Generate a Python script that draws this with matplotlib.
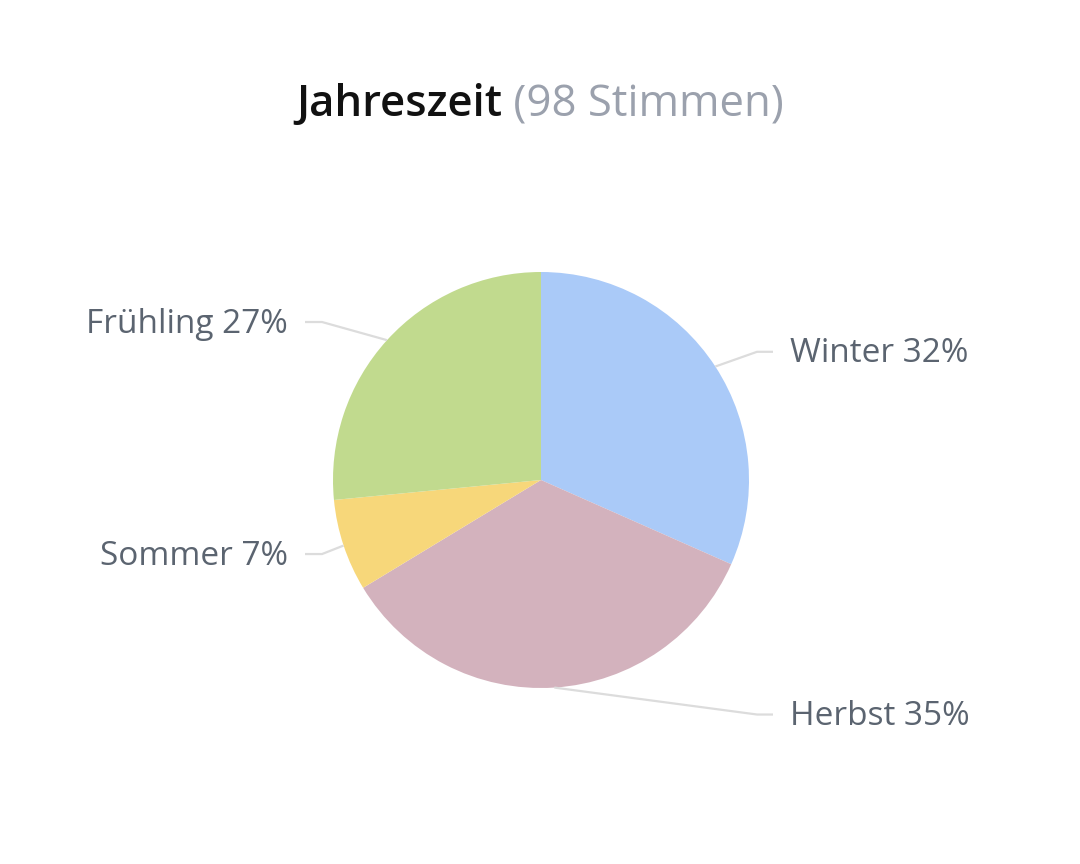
import numpy as np
import matplotlib.pyplot as plt

# survey data (98 votes)
seasons = ['Winter', 'Herbst', 'Sommer', 'Frühling']
votes = [31, 34, 7, 26]
colors = ['#aacaf8', '#d3b2bd', '#f7d77a', '#c1da8e']
total_votes = sum(votes)

plt.rcParams['font.family'] = ['Open Sans', 'DejaVu Sans']

W, H = 1080, 864
fig = plt.figure(figsize=(W / 100, H / 100), dpi=100)
ax = fig.add_axes([0, 0, 1, 1])

cx, cy, r = 541, H - 480, 208
wedges, _ = ax.pie(votes, colors=colors, startangle=90, counterclock=False,
                   center=(cx, cy), radius=r, frame=True,
                   wedgeprops=dict(linewidth=0))
ax.set_xlim(0, W)
ax.set_ylim(0, H)
ax.set_aspect('equal')
ax.axis('off')

label_color = '#5b6470'
line_color = '#dcdcdc'
dist = 27
for w, name, v in zip(wedges, seasons, votes):
    a = np.deg2rad((w.theta1 + w.theta2) / 2)
    ex, ey = cx + r * np.cos(a), cy + r * np.sin(a)
    ly = cy + (r + dist) * np.sin(a)
    pct = f'{name} {round(v / total_votes * 100)}%'
    if np.cos(a) >= 0:
        ax.plot([ex, 757, 773], [ey, ly, ly], color=line_color, lw=1.6,
                solid_capstyle='butt')
        ax.text(790, ly + 2, pct, ha='left', va='center_baseline', fontsize=24,
                color=label_color)
    else:
        ax.plot([ex, 322, 305], [ey, ly, ly], color=line_color, lw=1.6,
                solid_capstyle='butt')
        ax.text(288, ly + 2, pct, ha='right', va='center_baseline', fontsize=24,
                color=label_color)

# title: bold part + grey vote count, centred together
t1 = ax.text(0, H - 116, 'Jahreszeit', fontsize=31.5, fontweight='semibold',
             color='#111111', ha='left', va='baseline')
t2 = ax.text(0, H - 116, f' ({total_votes} Stimmen)', fontsize=31.5,
             color='#9ba1ad', ha='left', va='baseline')
fig.canvas.draw()
rend = fig.canvas.get_renderer()
w1 = t1.get_window_extent(rend).width
w2 = t2.get_window_extent(rend).width
x0 = 540 - (w1 + w2) / 2
t1.set_x(x0)
t2.set_x(x0 + w1)

fig.savefig('out.png', dpi=100)
